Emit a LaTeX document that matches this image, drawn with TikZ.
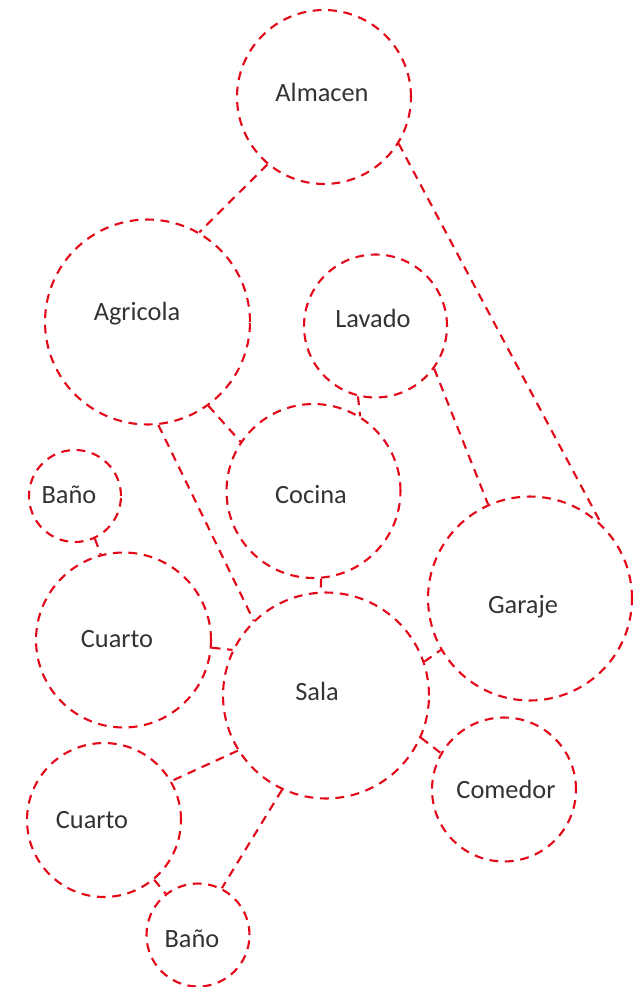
\documentclass[tikz,border=0pt]{standalone}
\usepackage{fontspec}
\setmainfont{Carlito}
\usepackage{xcolor}
\definecolor{bubred}{RGB}{226,8,24}

\begin{document}
\begin{tikzpicture}[x=0.02cm, y=-0.02cm,
    bubble/.style={circle, draw=bubred, line width=1.2pt, dash pattern=on 5pt off 3.8pt, inner sep=0pt},
    link/.style={draw=bubred, line width=1.2pt, dash pattern=on 5pt off 3.8pt},
    txt/.style={anchor=base, font=\fontsize{15}{18}\selectfont, text=black!80}]
    \useasboundingbox (0,0) rectangle (644,987);

    % burbujas
    \node[bubble, minimum size=3.48cm] (alm) at (324,97) {};
    \node[bubble, minimum size=4.10cm] (agr) at (147.5,322) {};
    \node[bubble, minimum size=2.86cm] (lav) at (375.5,326) {};
    \node[bubble, minimum size=3.48cm] (coc) at (313.5,491) {};
    \node[bubble, minimum size=1.84cm] (bano1) at (75,496) {};
    \node[bubble, minimum size=3.50cm] (cua1) at (123.5,640) {};
    \node[bubble, minimum size=4.08cm] (gar) at (530,598.5) {};
    \node[bubble, minimum size=4.12cm] (sala) at (326,695.5) {};
    \node[bubble, minimum size=2.88cm] (com) at (504,789.5) {};
    \node[bubble, minimum size=3.08cm] (cua2) at (104,820) {};
    \node[bubble, minimum size=2.06cm] (bano2) at (198,935) {};

    % nombres
    \node[txt] (alm-t) at (322,101) {Almacen};
    \node[txt] (agr-t) at (137,320) {Agricola};
    \node[txt] (lav-t) at (373,327) {Lavado};
    \node[txt] (coc-t) at (311,503) {Cocina};
    \node[txt] (bano1-t) at (69,503) {Baño};
    \node[txt] (cua1-t) at (117,647) {Cuarto};
    \node[txt] (gar-t) at (523,613) {Garaje};
    \node[txt] (sala-t) at (317,700) {Sala};
    \node[txt] (com-t) at (506,798) {Comedor};
    \node[txt] (cua2-t) at (92,828) {Cuarto};
    \node[txt] (bano2-t) at (192,947) {Baño};

    % relaciones
    \draw[link] (alm.230) -- (agr.60);
    \draw[link] (alm.328) -- (gar.46);
    \draw[link] (agr.306) -- (coc.146);
    \draw[link] (agr.276) -- (sala.134);
    \draw[link] (lav.256) -- (coc.58);
    \draw[link] (lav.324) -- (gar.114);
    \draw[link] (coc.275) -- (sala.93);
    \draw[link] (bano1.295) -- (cua1.105);
    \draw[link] (cua1.355) -- (sala.154);
    \draw[link] (sala.19) -- (gar.210);
    \draw[link] (sala.336) -- (com.150);
    \draw[link] (sala.212) -- (cua2.30);
    \draw[link] (sala.245) -- (bano2.63);
    \draw[link] (cua2.310) -- (bano2.128);
\end{tikzpicture}
\end{document}
